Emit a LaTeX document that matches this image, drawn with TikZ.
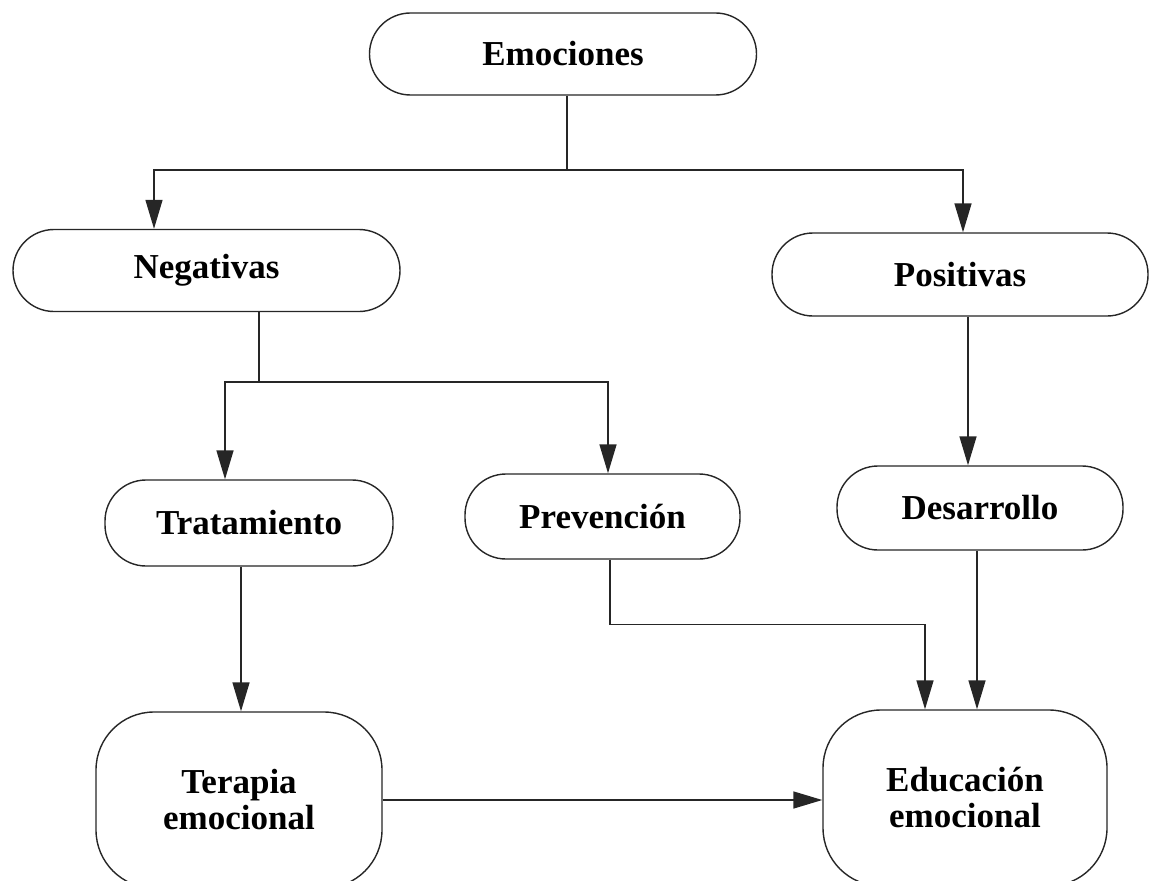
\documentclass[tikz,border=0pt]{standalone}
\usepackage{fontspec}
\setmainfont{Liberation Serif}
\usetikzlibrary{arrows.meta}
\begin{document}
\begin{tikzpicture}[x=1pt,y=-1pt,
  box/.style={draw=black!85, line width=1.4pt, rounded corners=41pt, fill=white,
    font=\fontsize{35}{36}\selectfont\bfseries, align=center, inner sep=0pt},
  bigbox/.style={box, rounded corners=58pt},
  conn/.style={draw=black!85, line width=1.5pt},
  arr/.style={conn, -{Triangle[length=29pt,width=17pt]}}]
\useasboundingbox (0,0) rectangle (1150,880);
\clip (0,0) rectangle (1150,880);
\node[box, minimum width=387pt, minimum height=82pt] (emo) at (563,54) {Emociones};
\node[box, minimum width=387pt, minimum height=82pt] (neg) at (206.5,270.5) {Negativas};
\node[box, minimum width=376pt, minimum height=83pt] (pos) at (960,274.5) {Positivas};
\node[box, minimum width=288pt, minimum height=86pt] (tra) at (249,523) {Tratamiento};
\node[box, minimum width=275pt, minimum height=85pt] (pre) at (602.5,516.5) {Prevención};
\node[box, minimum width=286pt, minimum height=84pt] (des) at (980,508) {Desarrollo};
\node[bigbox, minimum width=286pt, minimum height=176pt] (ter) at (239,800) {Terapia\\emocional};
\node[bigbox, minimum width=284pt, minimum height=176pt] (edu) at (965,798) {Educación\\emocional};
\coordinate (j1) at (567,170);
\coordinate (j2) at (259,382);
\draw[conn] (emo.south -| j1) -- (j1);
\draw[arr] (j1) -| ([xshift=-52.5pt]neg.north);
\draw[arr] (j1) -| ([xshift=3pt]pos.north);
\draw[conn] (neg.south -| j2) -- (j2);
\draw[arr] (j2) -| ([xshift=-24pt]tra.north);
\draw[arr] (j2) -| ([xshift=5.5pt]pre.north);
\draw[arr] ([xshift=8pt]pos.south) -- ([xshift=8pt]pos.south |- des.north);
\draw[arr] ([xshift=-8pt]tra.south) -- ([xshift=-8pt]tra.south |- ter.north);
\draw[arr] ([xshift=7.5pt]pre.south) -- ++(0,65) -| ([xshift=-40pt]edu.north);
\draw[arr] ([xshift=-3pt]des.south) -- ([xshift=-3pt]des.south |- edu.north);
\draw[arr] (ter.east) -- (edu.west |- ter.east);
\end{tikzpicture}
\end{document}
